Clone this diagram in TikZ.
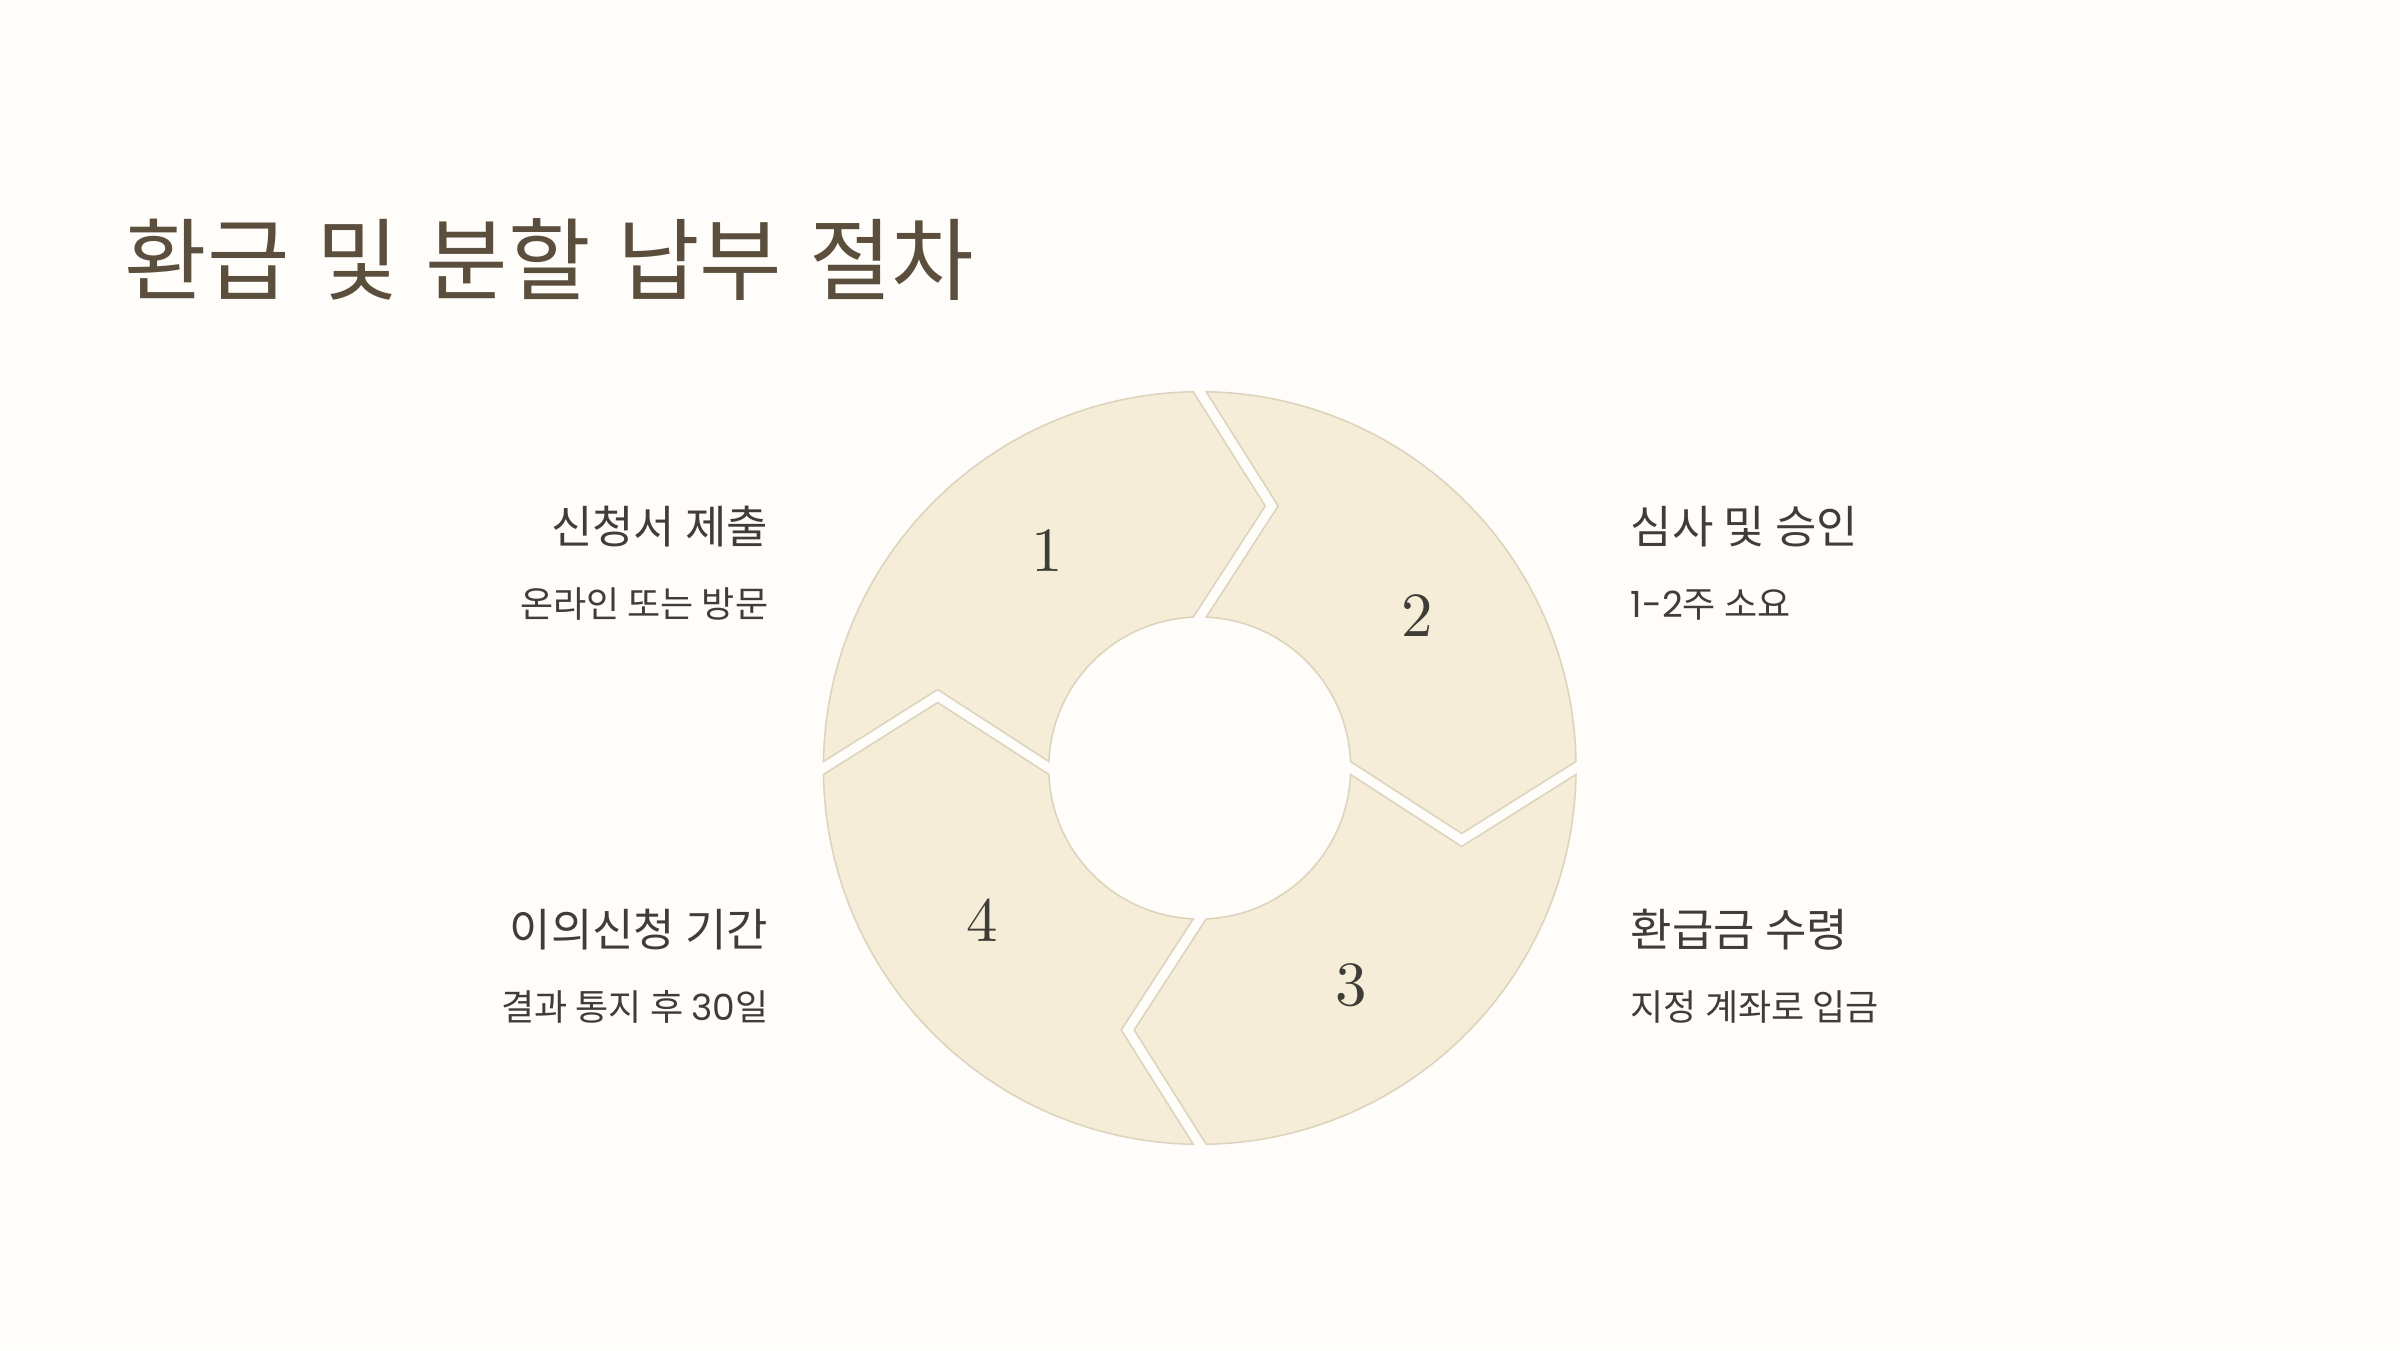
\documentclass[tikz,border=0pt]{standalone}
\usepackage{fontspec}
\setmainfont{Latin Modern Roman}
\newfontfamily\kr{Noto Sans CJK KR}
\newfontfamily\pop{Poppins}
\newfontfamily\numfont{lmroman10-regular.otf}
\newcommand\widespaces{\spaceskip=7.6pt\relax}
\definecolor{bgc}{HTML}{FEFDF9}
\definecolor{segfill}{HTML}{F6EDD8}
\definecolor{segline}{HTML}{DDD4BE}
\definecolor{titlec}{HTML}{5B4E3C}
\definecolor{textc}{HTML}{3F3D38}
\tikzset{
  segstyle/.style={fill=segfill, draw=segline, line width=0.45pt, line join=miter},
  titletext/.style={inner sep=0, text=titlec, font=\kr\fontsize{25.5}{30}\selectfont},
  headtext/.style={inner sep=0, text=textc, font=\kr\fontsize{12.8}{15}\selectfont},
  subtext/.style={inner sep=0, text=textc, font=\kr\fontsize{10.25}{12}\selectfont},
  numtext/.style={inner sep=0, text=textc, font=\numfont\fontsize{17.9}{20}\selectfont}
}
\begin{document}
\begin{tikzpicture}[x=0.01cm,y=0.01cm]
\fill[bgc] (0,0) rectangle (2400,1350);
\useasboundingbox (0,0) rectangle (2400,1350);
\coordinate (C) at (1199.7,582);
% title
\node[titletext, anchor=base west] (title) at (124,1057) {\widespaces 환급 및 분할 납부 절차};
% segments
\foreach \k in {0,1,2,3} {
  \begin{scope}[shift={(1199.7,582)}, rotate=-90*\k]
    \path[segstyle] (179.01:376.3) arc[start angle=179.01, end angle=90.99, radius=376.3]
      -- (65.5,262) -- (92.47:151) arc[start angle=92.47, end angle=177.53, radius=151]
      -- (-262,78.5) -- cycle;
  \end{scope}
}
% numbers
\begin{scope}[shift={(1199.7,582)}]
  \node[numtext] (n1) at (125:265) {1};
  \node[numtext] (n2) at (35:265) {2};
  \node[numtext] (n3) at (-55:265) {3};
  \node[numtext] (n4) at (-145:265) {4};
\end{scope}
% left labels
\node[headtext, anchor=base east] (h1) at (769,806.5) {신청서 제출};
\node[subtext, anchor=base east] (s1) at (769,732.5) {온라인 또는 방문};
\node[headtext, anchor=base east] (h4) at (769,403.5) {이의신청 기간};
\node[subtext, anchor=base east] (s4) at (769,330) {결과 통지 후 {\pop 30}일};
% right labels
\node[headtext, anchor=base west] (h2) at (1630,806.5) {심사 및 승인};
\node[subtext, anchor=base west] (s2) at (1630,732.5) {{\pop 1-2}주 소요};
\node[headtext, anchor=base west] (h3) at (1630,403.5) {환급금 수령};
\node[subtext, anchor=base west] (s3) at (1630,330) {지정 계좌로 입금};
\end{tikzpicture}
\end{document}
